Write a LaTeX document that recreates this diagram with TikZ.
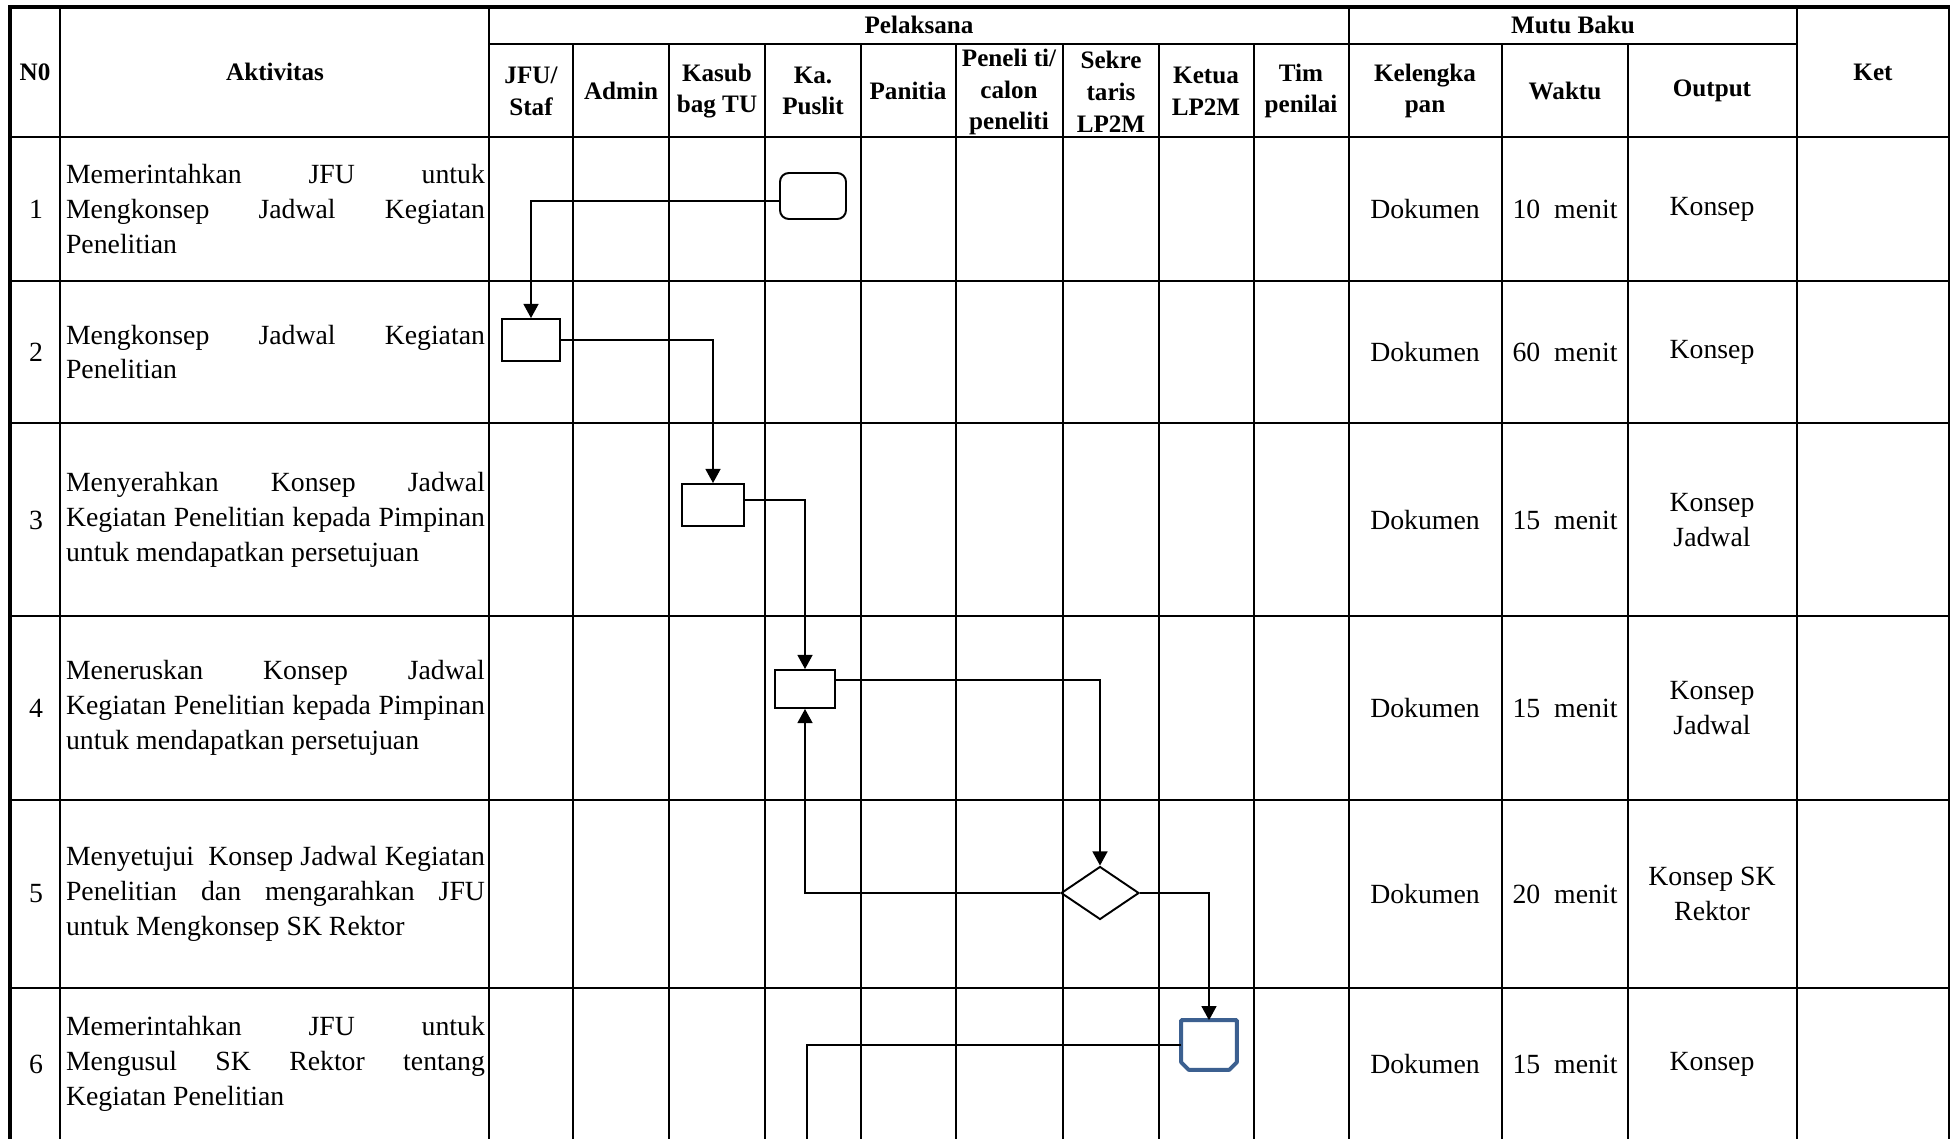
\documentclass[tikz,border=0pt]{standalone}
\usepackage{fontspec}
\setmainfont{Liberation Serif}
\usepackage{tikz}
\usetikzlibrary{shapes.geometric, arrows.meta, positioning}
\definecolor{flowblue}{HTML}{3C6090}
\newcommand{\jl}[1]{\makebox[8.38cm][s]{\spaceskip=0pt\xspaceskip=0pt #1}}
\tikzset{
  every node/.style = {inner sep=0pt},
  frame/.style      = {line width=2.6pt},
  rule/.style       = {line width=1.5pt},
  head/.style       = {font=\fontsize{14.3pt}{18.1pt}\selectfont\bfseries, align=center},
  body/.style       = {font=\fontsize{15.8pt}{19.8pt}\selectfont, align=center},
  act/.style        = {font=\fontsize{15.8pt}{19.8pt}\selectfont, text width=8.38cm, align=justify},
  terminal/.style   = {rectangle, rounded corners=5pt, draw, line width=1.1pt,
                       minimum width=1.32cm, minimum height=0.92cm},
  process/.style    = {rectangle, draw, line width=1.1pt},
  decision/.style   = {diamond, draw, line width=1.1pt,
                       minimum width=1.56cm, minimum height=1.06cm},
  offpage/.style    = {rectangle, minimum width=1.1cm, minimum height=0.98cm},
  blueline/.style   = {draw=flowblue, line width=2.2pt, line join=round},
  arrow/.style      = {-{Triangle[length=8pt,width=8.5pt]}, line width=0.9pt},
  link/.style       = {line width=0.9pt}
}

\begin{document}
\begin{tikzpicture}[x=0.02cm, y=-0.02cm]
  \fill[white] (0,0) rectangle (1950,1139);
  \useasboundingbox (0,0) rectangle (1950,1139);

  \draw[frame] (1950,7) -- (10,7) -- (10,1139);
  \draw[rule] (1949,7) -- (1949,1139);
  \foreach \x in {60,489,1349,1797} \draw[rule] (\x,7) -- (\x,1139);
  \foreach \x in {573,669,765,861,956,1063,1159,1254,1502,1628} \draw[rule] (\x,44) -- (\x,1139);
  \draw[rule] (489,44) -- (1797,44);
  \foreach \y in {137,281,423,616,800,988} \draw[rule] (10,\y) -- (1950,\y);

  \node[head] (hno)   at (35,72)     {N0};
  \node[head] (hakt)  at (275,72)    {Aktivitas};
  \node[head] (hpel)  at (919,25)    {Pelaksana};
  \node[head] (hmutu) at (1573,25)   {Mutu Baku};
  \node[head] (hket)  at (1873,72)   {Ket};
  \node[head] (hjfu)  at (531,91)    {JFU/\\Staf};
  \node[head] (hadm)  at (621,91)    {Admin};
  \node[head] (hkas)  at (717,91)    {Kasub\\bag TU};
  \node[head] (hkap)  at (813,91)    {Ka.\\Puslit};
  \node[head] (hpan)  at (908,91)    {Panitia};
  \node[head] (hpen)  at (1009,92)   {Peneli ti/\\calon\\peneliti};
  \node[head] (hsek)  at (1111,92)   {Sekre\\taris\\LP2M};
  \node[head] (hket2) at (1206,91)   {Ketua\\LP2M};
  \node[head] (htim)  at (1301,91)   {Tim\\penilai};
  \node[head] (hkel)  at (1425,91)   {Kelengka\\pan};
  \node[head] (hwak)  at (1565,91)   {Waktu};
  \node[head] (hout)  at (1712,91)   {Output};

  \node[body] (n1) at (36,209)  {1};
  \node[body] (n2) at (36,352)  {2};
  \node[body] (n3) at (36,520)  {3};
  \node[body] (n4) at (36,708)  {4};
  \node[body] (n5) at (36,894)  {5};
  \node[body] (n6) at (36,1064) {6};

  \node[act] (a1) at (275.5,209)  {\jl{Memerintahkan JFU untuk}\\\jl{Mengkonsep Jadwal Kegiatan}\\Penelitian};
  \node[act] (a2) at (275.5,352)  {\jl{Mengkonsep Jadwal Kegiatan}\\Penelitian};
  \node[act] (a3) at (275.5,520)  {\jl{Menyerahkan Konsep Jadwal}\\\jl{Kegiatan Penelitian kepada Pimpinan}\\untuk mendapatkan persetujuan};
  \node[act] (a4) at (275.5,708)  {\jl{Meneruskan Konsep Jadwal}\\\jl{Kegiatan Penelitian kepada Pimpinan}\\untuk mendapatkan persetujuan};
  \node[act] (a5) at (275.5,894)  {\jl{Menyetujui~~Konsep Jadwal Kegiatan}\\\jl{Penelitian dan mengarahkan JFU}\\untuk Mengkonsep SK Rektor};
  \node[act] (a6) at (275.5,1064) {\jl{Memerintahkan JFU untuk}\\\jl{Mengusul SK Rektor tentang}\\Kegiatan Penelitian};

  \foreach \y/\w/\o [count=\i] in {209/10/Konsep, 352/60/Konsep, 520/15/{Konsep\\Jadwal},
      708/15/{Konsep\\Jadwal}, 894/20/{Konsep SK\\Rektor}, 1064/15/Konsep} {
    \node[body] (kel\i) at (1425,\y) {Dokumen};
    \node[body] (wak\i) at (1565,\y) {\w~~menit};
    \node[body] (out\i) at (1712,\y) {\o};
  }

  \node[terminal] (start) at (813,196) {};
  \node[process, minimum width=1.16cm, minimum height=0.84cm] (konsep) at (531,340) {};
  \node[process, minimum width=1.24cm, minimum height=0.84cm] (serah)  at (713,505) {};
  \node[process, minimum width=1.2cm, minimum height=0.76cm]  (terus)  at (805,689) {};
  \node[decision] (setuju) at (1100,893) {};
  \node[offpage]  (ketua)  at (1209,1045) {};
  \draw[blueline] (ketua.north west) -- ([yshift=0.15cm]ketua.south west)
    -- ([xshift=0.15cm]ketua.south west) -- ([xshift=-0.15cm]ketua.south east)
    -- ([yshift=0.15cm]ketua.south east) -- (ketua.north east) -- cycle;
  \coordinate (lanjut) at (807,1139);

  \draw[arrow] ([yshift=-0.1cm]start.west) -| (konsep);
  \draw[arrow] (konsep.east) -| (serah);
  \draw[arrow] ([yshift=0.1cm]serah.east) -| (terus);
  \draw[arrow] ([yshift=0.18cm]terus.east) -| (setuju);
  \draw[arrow] (setuju.west) -| (terus);
  \draw[arrow] (setuju.east) -| (ketua);
  \draw[link] (ketua.west) -| (lanjut);
\end{tikzpicture}
\end{document}
